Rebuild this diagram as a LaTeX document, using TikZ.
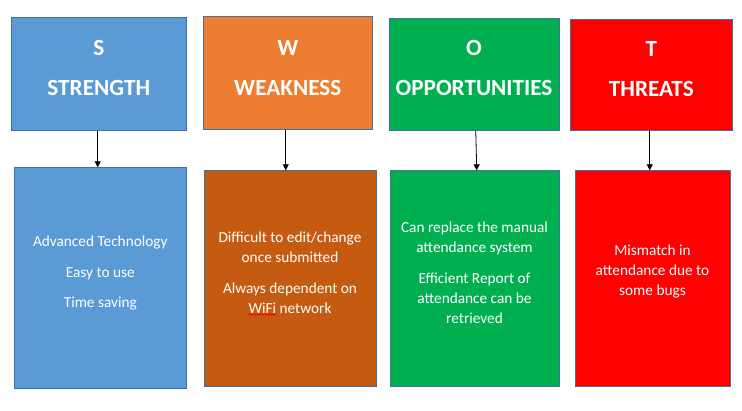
\documentclass[tikz,border=0pt]{standalone}
\usepackage{fontspec}
\setmainfont{Carlito}
\usetikzlibrary{arrows.meta,decorations.pathmorphing}
\definecolor{edge}{HTML}{41719C}
\definecolor{sblue}{HTML}{5B9BD5}
\definecolor{worange}{HTML}{ED7D31}
\definecolor{wbrown}{HTML}{C55A11}
\definecolor{ogreen}{HTML}{00B050}
\definecolor{tred}{HTML}{FF0000}
\begin{document}
\begin{tikzpicture}[x=1pt,y=-1pt,
  box/.style={draw=edge, line width=0.9pt, inner sep=0pt, anchor=north west},
  head/.style={text=white, font=\fontsize{23.2}{40}\selectfont\bfseries, align=center, inner sep=0pt},
  body/.style={text=white, font=\fontsize{15.3}{20}\selectfont, align=center, inner sep=0pt},
  link/.style={-{Triangle[length=6pt,width=6pt]}, line width=0.8pt, black}]
\useasboundingbox (0,0) rectangle (742,410);

% header boxes
\node[box, fill=sblue,   minimum width=175pt,   minimum height=112.7pt] (sTop) at (11.3,17.3) {};
\node[box, fill=worange, minimum width=169pt,   minimum height=113.3pt] (wTop) at (203.3,16) {};
\node[box, fill=ogreen,  minimum width=169.4pt, minimum height=111.7pt] (oTop) at (389.3,18.3) {};
\node[box, fill=tred,    minimum width=162pt,   minimum height=110.7pt] (tTop) at (570.3,19.3) {};

% detail boxes
\node[box, fill=sblue,  minimum width=172pt,   minimum height=221pt] (sBot) at (14.3,167.3) {};
\node[box, fill=wbrown, minimum width=171.4pt, minimum height=216pt] (wBot) at (204.3,170.3) {};
\node[box, fill=ogreen, minimum width=168.4pt, minimum height=216pt] (oBot) at (390.3,170.3) {};
\node[box, fill=tred,   minimum width=154.4pt, minimum height=216pt] (tBot) at (575.3,170.3) {};

% header texts
\node[head] (sHead) at (98.8,68) {S\\STRENGTH};
\node[head] (wHead) at (287.8,68) {W\\WEAKNESS};
\node[head] (oHead) at (474,68) {O\\OPPORTUNITIES};
\node[head] (tHead) at (651.3,69) {T\\THREATS};

% detail texts
\node[body] (sText) at (100.3,273) {Advanced Technology\\[10.5pt]Easy to use\\[10.5pt]Time saving};
\node[body] (wText) at (290,272.5) {Difficult to edit/change\\once submitted\\[11pt]Always dependent on\\WiFi network};
\node[body] (oText) at (474.5,272.5) {Can replace the manual\\attendance system\\[11pt]Efficient Report of\\attendance can be\\retrieved};
\node[body] (tText) at (652.5,271.5) {Mismatch in\\attendance due to\\some bugs};

% spell-check squiggle under WiFi
\draw[red, line width=0.6pt, decorate, decoration={snake, amplitude=0.8pt, segment length=2.6pt}]
  (248.3,314.5) -- (276,314.5);

% connectors
\draw[link] ([xshift=-1.5pt]sTop.south) -- ([xshift=-3pt]sBot.north);
\draw[link] ([xshift=-2.5pt]wTop.south) -- ([xshift=-4.7pt]wBot.north);
\draw[link] ([xshift=1.3pt]oTop.south) -- ([xshift=1.8pt]oBot.north);
\draw[link] ([xshift=-2pt]tTop.south) -- ([xshift=-3.2pt]tBot.north);
\end{tikzpicture}
\end{document}
